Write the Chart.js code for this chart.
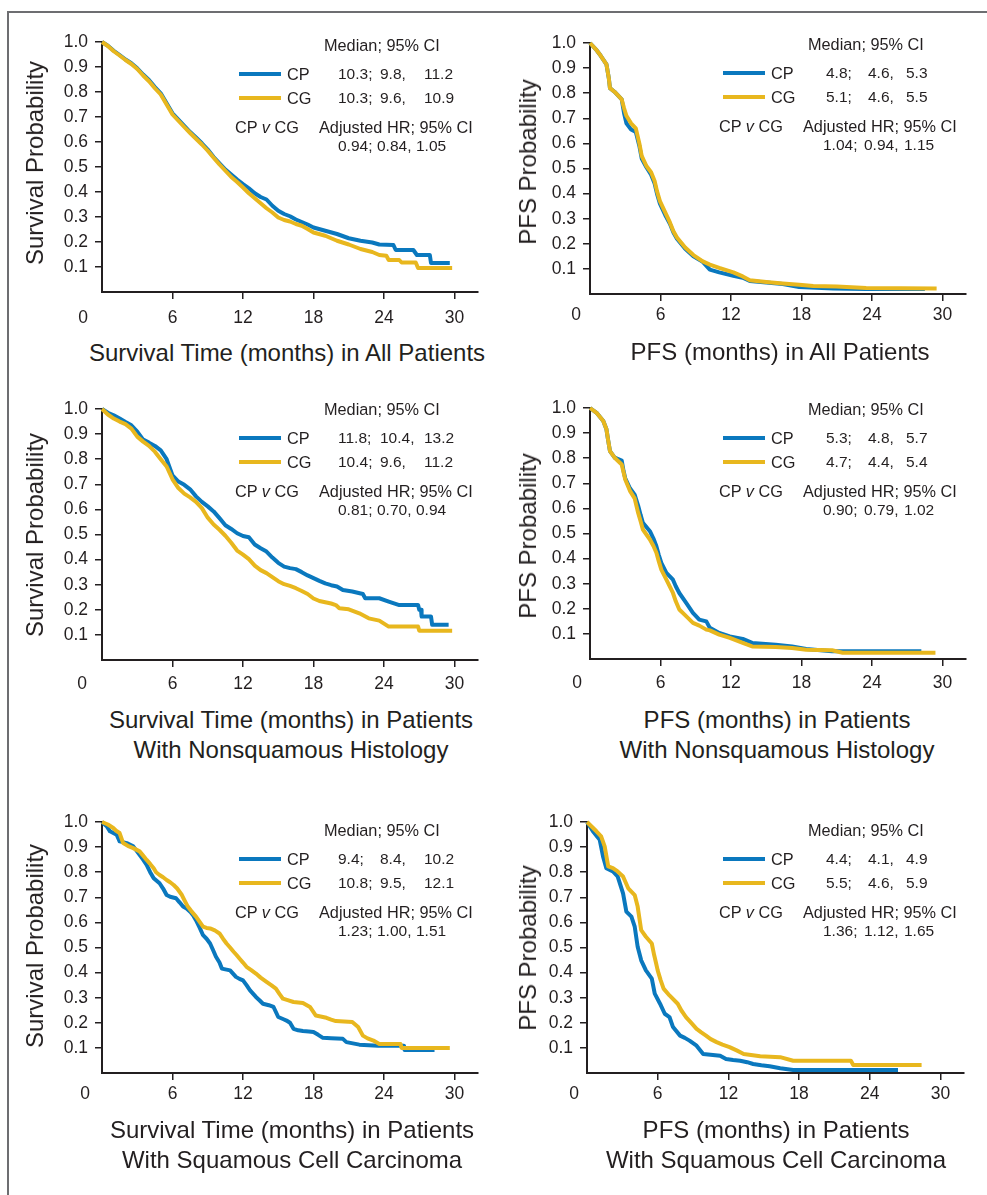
<!DOCTYPE html>
<html lang="en">
<head>
<meta charset="UTF-8">
<meta name="viewport" content="width=device-width, initial-scale=1.0">
<title>CP v CG: survival and PFS</title>
<script src="https://cdn.jsdelivr.net/npm/chart.js"></script>
<style>
  body { margin: 0; background: #fff; }
  #page {
    position: relative; width: 987px; height: 1195px; overflow: hidden; background: #fff;
    font-family: "Liberation Sans", Arial, sans-serif; color: #231f20;
  }
  #page canvas { position: absolute; }
  .frame { position: absolute; background: #6d6e71; }
  .txt { position: absolute; white-space: pre; line-height: 1; }
  .ttl { position: absolute; white-space: pre; line-height: 1; font-size: 24px; transform: translate(-50%, -50%); }
  .ytl { position: absolute; white-space: pre; line-height: 1; font-size: 24px; transform: translate(-50%, -50%) rotate(-90deg); }
  .swatch { position: absolute; height: 4px; }
</style>
</head>
<body>
<div id="page">
  <div class="frame" style="left:7px; top:11px; width:980px; height:2px;"></div>
  <div class="frame" style="left:7px; top:11px; width:2px; height:1184px;"></div>
</div>

<script>
    // --- data (months, probability) ---
    const yTicks = [0.1, 0.2, 0.3, 0.4, 0.5, 0.6, 0.7, 0.8, 0.9, 1.0];
    const xTicks = [6, 12, 18, 24, 30];

    // OS, all patients
    const osAllCpT = [0,0.5,1,1.5,2,2.5,3,3.5,4,4.5,5,5.5,6,6.5,7,7.5,8,8.5,9,9.5,10,10.5,11,11.5,12,12.5,13,13.5,14,14.5,15,15.5,16,16.5,17,17.5,18,19,20,21,22,23,23.6,24.8,25.0,26.5,26.8,27.9,28.0,29.6];
    const osAllCpS = [1,0.985,0.965,0.948,0.93,0.915,0.895,0.87,0.848,0.82,0.795,0.755,0.715,0.69,0.665,0.64,0.618,0.595,0.57,0.54,0.515,0.49,0.47,0.45,0.432,0.415,0.395,0.38,0.37,0.345,0.325,0.312,0.303,0.29,0.28,0.27,0.258,0.245,0.232,0.215,0.205,0.198,0.19,0.188,0.168,0.168,0.148,0.148,0.116,0.116];
    const osAllCgT = [0,0.5,1,1.5,2,2.5,3,3.5,4,4.5,5,5.5,6,6.5,7,7.5,8,8.5,9,9.5,10,10.5,11,11.5,12,12.5,13,13.5,14,14.5,15,15.5,16,16.5,17,17.5,18,19,20,21,22,23,23.6,24.2,24.4,25.3,25.5,26.7,26.9,29.8];
    const osAllCgS = [1,0.984,0.963,0.946,0.928,0.912,0.892,0.866,0.843,0.815,0.79,0.75,0.71,0.685,0.66,0.636,0.613,0.59,0.565,0.537,0.51,0.485,0.46,0.44,0.418,0.395,0.375,0.355,0.335,0.318,0.298,0.288,0.282,0.272,0.265,0.252,0.238,0.225,0.205,0.19,0.172,0.16,0.148,0.145,0.128,0.128,0.118,0.118,0.096,0.096];

    // PFS, all patients
    const pfsAllCpT = [0,0.5,0.9,1.4,1.6,1.7,2.1,2.7,2.9,3.1,3.5,3.9,4.2,4.4,4.8,5.2,5.5,5.7,5.95,6.4,6.8,7.1,7.4,8.1,8.8,9.6,10.2,11,12.2,13,13.6,15,16.4,17.8,20.7,23.5,28.5];
    const pfsAllCpS = [1,0.975,0.95,0.915,0.86,0.82,0.805,0.775,0.72,0.68,0.655,0.645,0.59,0.54,0.505,0.475,0.44,0.4,0.36,0.315,0.28,0.245,0.22,0.18,0.15,0.128,0.097,0.086,0.073,0.065,0.052,0.046,0.04,0.028,0.022,0.02,0.02];
    const pfsAllCgT = [0,0.5,0.9,1.4,1.6,1.7,2.1,2.7,2.9,3.1,3.5,3.9,4.2,4.4,4.8,5.2,5.5,5.7,5.95,6.4,6.8,7.1,7.4,8.1,8.8,9.6,10.2,11,12.2,13,13.6,15,16.4,17.8,19,21,23.5,29.5];
    const pfsAllCgS = [1,0.975,0.95,0.915,0.86,0.82,0.805,0.775,0.74,0.71,0.68,0.66,0.6,0.55,0.51,0.485,0.45,0.41,0.37,0.325,0.285,0.25,0.225,0.185,0.155,0.13,0.117,0.104,0.086,0.07,0.055,0.048,0.042,0.037,0.032,0.03,0.024,0.022];

    // OS, nonsquamous
    const osNsqCpT = [0,0.5,1,1.5,2,2.5,3,3.5,4,4.5,5,5.5,6,6.5,7,7.5,8,8.5,9,9.5,10,10.5,11,11.5,12,12.5,13,13.5,14,14.5,15,15.5,16,16.5,17,17.5,18,18.5,19,19.5,20,20.5,21.3,22.2,22.4,23.6,24.4,25.3,26.9,27.0,27.15,27.2,28.0,28.1,29.5];
    const osNsqCpS = [1,0.985,0.975,0.962,0.948,0.935,0.91,0.878,0.866,0.853,0.835,0.8,0.735,0.711,0.698,0.68,0.652,0.63,0.612,0.592,0.565,0.537,0.522,0.505,0.494,0.489,0.46,0.445,0.432,0.408,0.387,0.372,0.366,0.362,0.35,0.337,0.326,0.315,0.305,0.298,0.293,0.279,0.273,0.263,0.246,0.246,0.233,0.219,0.219,0.2,0.2,0.173,0.173,0.14,0.14];
    const osNsqCgT = [0,0.5,1,1.5,2,2.5,3,3.5,4,4.5,5,5.5,6,6.5,7,7.5,8,8.5,9,9.5,10,10.5,11,11.5,12,12.5,13,13.5,14,14.5,15,15.5,16,16.5,17,17.5,18,18.5,19,19.5,19.9,20.2,21,21.9,22.7,23.6,24.4,26.9,27.0,29.8];
    const osNsqCgS = [1,0.978,0.962,0.95,0.94,0.922,0.89,0.87,0.853,0.83,0.8,0.771,0.72,0.685,0.663,0.648,0.63,0.605,0.567,0.54,0.519,0.495,0.467,0.436,0.42,0.402,0.376,0.358,0.346,0.33,0.314,0.302,0.295,0.286,0.275,0.263,0.245,0.235,0.23,0.225,0.219,0.206,0.202,0.186,0.166,0.157,0.133,0.133,0.117,0.117];

    // PFS, nonsquamous
    const pfsNsqCpT = [0,0.56,1.13,1.4,1.55,1.7,2.1,2.7,2.85,3.0,3.4,3.8,4.1,4.3,4.5,5.1,5.4,5.65,5.85,6.07,6.5,7.06,7.3,7.6,8.2,8.76,9.3,9.9,10.2,11.0,11.9,13.0,13.8,15.8,17.2,18.4,20.6,28.2];
    const pfsNsqCpS = [1,0.981,0.948,0.915,0.87,0.828,0.802,0.79,0.75,0.72,0.68,0.655,0.61,0.575,0.543,0.509,0.48,0.449,0.415,0.383,0.343,0.316,0.29,0.263,0.223,0.184,0.157,0.15,0.124,0.104,0.09,0.08,0.064,0.057,0.05,0.04,0.031,0.031];
    const pfsNsqCgT = [0,0.56,1.13,1.4,1.55,1.7,2.1,2.7,2.85,3.0,3.4,3.8,4.1,4.3,4.5,5.1,5.4,5.65,5.85,6.07,6.5,7.06,7.3,7.6,8.2,8.76,9.3,9.9,10.2,11.0,11.9,13.0,13.8,15.8,17.2,18.4,20.6,21.5,29.4];
    const pfsNsqCgS = [1,0.981,0.948,0.915,0.87,0.828,0.802,0.775,0.745,0.715,0.67,0.64,0.582,0.55,0.516,0.476,0.45,0.423,0.39,0.356,0.316,0.263,0.23,0.197,0.17,0.144,0.133,0.117,0.114,0.097,0.084,0.064,0.05,0.048,0.044,0.037,0.035,0.025,0.025];

    // OS, squamous
    const osSqCpT = [0,0.4,0.68,1.25,1.5,2.1,2.66,3.2,3.5,3.8,4.1,4.4,4.9,5.2,5.5,5.8,6.3,6.6,6.9,7.2,7.5,7.8,8.0,8.3,8.6,8.9,9.2,9.45,9.7,10.0,10.2,10.9,11.4,11.7,12.0,12.3,12.6,13.1,13.4,13.7,14.2,14.6,15.0,15.4,15.7,16.0,16.3,16.7,17.1,17.6,18.0,18.4,18.8,19.5,20.5,20.8,21.9,23.5,25.7,25.75,28.3];
    const osSqCpS = [1,0.983,0.963,0.949,0.923,0.916,0.903,0.869,0.85,0.829,0.8,0.776,0.756,0.735,0.709,0.702,0.696,0.68,0.663,0.655,0.643,0.625,0.609,0.58,0.549,0.535,0.516,0.49,0.463,0.44,0.416,0.409,0.383,0.375,0.369,0.35,0.329,0.303,0.29,0.276,0.27,0.263,0.223,0.215,0.209,0.2,0.176,0.17,0.167,0.165,0.163,0.152,0.14,0.138,0.136,0.123,0.113,0.109,0.109,0.092,0.092];
    const osSqCgT = [0,0.5,0.96,1.2,1.5,1.8,2.2,2.66,3.2,3.5,3.8,4.1,4.4,4.6,4.9,5.2,5.5,5.8,6.1,6.4,6.8,7.0,7.3,7.6,8.0,8.3,8.6,8.9,9.2,9.6,10.0,10.3,10.6,10.9,11.2,11.45,11.7,12.0,12.3,12.7,13.1,13.5,14.0,14.4,14.8,15.1,15.4,15.8,16.3,17.1,17.7,18.2,18.6,19.1,19.5,19.9,21.3,21.8,22.2,22.6,23.1,23.6,25.4,25.5,29.6];
    const osSqCgS = [1,0.99,0.976,0.965,0.956,0.916,0.905,0.896,0.883,0.866,0.849,0.833,0.816,0.8,0.789,0.78,0.769,0.76,0.749,0.735,0.709,0.69,0.663,0.645,0.623,0.603,0.583,0.578,0.576,0.568,0.556,0.535,0.516,0.5,0.483,0.47,0.456,0.44,0.423,0.41,0.396,0.38,0.363,0.35,0.336,0.315,0.296,0.29,0.283,0.279,0.263,0.229,0.225,0.22,0.213,0.207,0.203,0.183,0.149,0.138,0.129,0.116,0.116,0.1,0.1];

    // PFS, squamous
    const pfsSqCpT = [0,0.5,1.08,1.36,1.64,2.2,2.6,3.06,3.34,3.77,4.05,4.3,4.6,5.0,5.5,5.75,6.2,6.6,7.0,7.3,7.9,8.3,8.7,9.3,9.86,11.3,11.8,12.4,13.0,13.6,14.1,14.8,15.5,16.4,17.5,26.4];
    const pfsSqCpS = [1,0.963,0.929,0.863,0.816,0.803,0.783,0.716,0.643,0.623,0.583,0.503,0.449,0.409,0.376,0.316,0.276,0.236,0.223,0.183,0.149,0.14,0.129,0.109,0.076,0.069,0.056,0.052,0.049,0.043,0.036,0.031,0.027,0.019,0.012,0.012];
    const pfsSqCgT = [0,0.8,1.2,1.5,1.8,2.2,2.6,3.06,3.5,4.05,4.3,4.6,5.0,5.5,5.7,5.85,6.0,6.25,6.5,7.0,7.7,8.0,8.4,8.85,9.3,9.7,10.1,10.5,11.0,11.5,12.1,12.7,13.3,14.7,16.4,17.5,22.4,22.6,28.4];
    const pfsSqCgS = [1,0.963,0.943,0.903,0.823,0.816,0.803,0.783,0.736,0.709,0.663,0.569,0.543,0.516,0.47,0.44,0.409,0.37,0.336,0.309,0.276,0.25,0.223,0.2,0.176,0.162,0.149,0.135,0.123,0.113,0.103,0.09,0.076,0.067,0.063,0.049,0.049,0.032,0.032];

    // medians (CP row, CG row) and adjusted HR
    const osAllMedian  = [['10.3;', '9.8,', '11.2'], ['10.3;', '9.6,', '10.9']];
    const pfsAllMedian = [['4.8;', '4.6,', '5.3'], ['5.1;', '4.6,', '5.5']];
    const osNsqMedian  = [['11.8;', '10.4,', '13.2'], ['10.4;', '9.6,', '11.2']];
    const pfsNsqMedian = [['5.3;', '4.8,', '5.7'], ['4.7;', '4.4,', '5.4']];
    const osSqMedian   = [['9.4;', '8.4,', '10.2'], ['10.8;', '9.5,', '12.1']];
    const pfsSqMedian  = [['4.4;', '4.1,', '4.9'], ['5.5;', '4.6,', '5.9']];
    const osAllHR  = ['0.94;', '0.84,', '1.05'];
    const pfsAllHR = ['1.04;', '0.94,', '1.15'];
    const osNsqHR  = ['0.81;', '0.70,', '0.94'];
    const pfsNsqHR = ['0.90;', '0.79,', '1.02'];
    const osSqHR   = ['1.23;', '1.00,', '1.51'];
    const pfsSqHR  = ['1.36;', '1.12,', '1.65'];

    const BLUE = '#0a78be', GOLD = '#e8b71e', INK = '#231f20';
    const FONT = '"Liberation Sans", Arial, sans-serif';

    // where each panel sits on the page
    const panels = [
        { cp: [osAllCpT, osAllCpS], cg: [osAllCgT, osAllCgS], med: osAllMedian, hr: osAllHR,
          left: 102, top: 42, bottom: 292, right: 478, lab: 26, zeroDx: -19, side: 0, legY: 45,
          yTitle: 'Survival Probability', yAt: [35, 163], xTitle: ['Survival Time (months) in All Patients'], xAt: [287, 353] },
        { cp: [pfsAllCpT, pfsAllCpS], cg: [pfsAllCgT, pfsAllCgS], med: pfsAllMedian, hr: pfsAllHR,
          left: 590, top: 43, bottom: 294, right: 966, lab: 21, zeroDx: -14, side: 1, legY: 44,
          yTitle: 'PFS Probability', yAt: [528, 162], xTitle: ['PFS (months) in All Patients'], xAt: [780, 352] },
        { cp: [osNsqCpT, osNsqCpS], cg: [osNsqCgT, osNsqCgS], med: osNsqMedian, hr: osNsqHR,
          left: 102, top: 409, bottom: 660, right: 478, lab: 24, zeroDx: -20, side: 0, legY: 409,
          yTitle: 'Survival Probability', yAt: [35, 535], xTitle: ['Survival Time (months) in Patients', 'With Nonsquamous Histology'], xAt: [291, 720] },
        { cp: [pfsNsqCpT, pfsNsqCpS], cg: [pfsNsqCgT, pfsNsqCgS], med: pfsNsqMedian, hr: pfsNsqHR,
          left: 590, top: 408, bottom: 659, right: 966, lab: 24, zeroDx: -13, side: 1, legY: 409,
          yTitle: 'PFS Probability', yAt: [528, 536], xTitle: ['PFS (months) in Patients', 'With Nonsquamous Histology'], xAt: [777, 720] },
        { cp: [osSqCpT, osSqCpS], cg: [osSqCgT, osSqCgS], med: osSqMedian, hr: osSqHR,
          left: 102, top: 822, bottom: 1073, right: 478, lab: 21, zeroDx: -17, side: 0, legY: 830,
          yTitle: 'Survival Probability', yAt: [35, 946], xTitle: ['Survival Time (months) in Patients', 'With Squamous Cell Carcinoma'], xAt: [292, 1130] },
        { cp: [pfsSqCpT, pfsSqCpS], cg: [pfsSqCgT, pfsSqCgS], med: pfsSqMedian, hr: pfsSqHR,
          left: 587, top: 822, bottom: 1073, right: 964, lab: 21, zeroDx: -13, side: 1, legY: 830,
          yTitle: 'PFS Probability', yAt: [528, 948], xTitle: ['PFS (months) in Patients', 'With Squamous Cell Carcinoma'], xAt: [776, 1130] }
    ];

    const legendX = [
        { line: [239, 281], lab: 287, med: 324, cols: [338, 380, 424], cpv: 235, adj: 319, hr: [338, 377, 416] },
        { line: [723, 765], lab: 771, med: 808, cols: [826, 868, 906], cpv: 719, adj: 803, hr: [823, 864, 904] }
    ];
    const legendRows = [0, 29, 53, 82, 101];

    const page = document.getElementById('page');

    // "0" sits below and left of the origin
    const zeroTick = {
        id: 'zeroTick',
        afterDraw(chart, args, o) {
            const x = chart.scales.x, c = chart.ctx;
            c.save();
            c.font = '17.5px ' + FONT;
            c.fillStyle = INK;
            c.textAlign = 'center';
            c.textBaseline = 'middle';
            c.fillText('0', x.getPixelForValue(0) + o.dx, x.top + o.dy);
            c.restore();
        }
    };

    function pts(t, s) {
        return t.map((x, i) => ({ x: x, y: s[i] }));
    }

    function addText(html, x, cy, size, cls) {
        const d = document.createElement('div');
        d.className = cls || 'txt';
        d.style.left = x + 'px';
        d.style.top = (cy - 0.49 * size) + 'px';
        d.style.fontSize = size + 'px';
        d.innerHTML = html;
        page.appendChild(d);
        return d;
    }

    function makePanel(p) {
        const cl = p.left - 62, ct = p.top - 20;
        const w = p.right - cl + 12, h = p.bottom - ct + 45;
        const cv = document.createElement('canvas');
        cv.width = w; cv.height = h;
        cv.style.left = cl + 'px'; cv.style.top = ct + 'px';
        cv.style.width = w + 'px'; cv.style.height = h + 'px';
        page.appendChild(cv);

        const tickFont = { family: FONT, size: 17.5 };
        const line = { borderWidth: 4, tension: 0, pointRadius: 0, fill: false, clip: false, borderJoinStyle: 'round' };

        new Chart(cv, {
            type: 'line',
            data: {
                datasets: [
                    Object.assign({ label: 'CG', data: pts(p.cg[0], p.cg[1]), borderColor: GOLD }, line),
                    Object.assign({ label: 'CP', data: pts(p.cp[0], p.cp[1]), borderColor: BLUE }, line)
                ]
            },
            options: {
                responsive: false,
                animation: false,
                devicePixelRatio: 1,
                layout: { padding: { top: 20, right: 12, bottom: 0, left: 0 } },
                plugins: {
                    legend: { display: false },
                    tooltip: { enabled: false },
                    zeroTick: { dx: p.zeroDx, dy: p.lab }
                },
                scales: {
                    x: {
                        type: 'linear', min: 0, max: 32,
                        afterFit: s => { s.height = 45; },
                        afterBuildTicks: s => { s.ticks = xTicks.map(v => ({ value: v })); },
                        ticks: { font: tickFont, color: INK, padding: p.lab - 7 - 10.5, callback: v => String(v), maxRotation: 0, autoSkip: false },
                        grid: { drawOnChartArea: false, tickLength: 7, color: INK, lineWidth: 1.5 },
                        border: { color: INK, width: 2 }
                    },
                    y: {
                        min: 0, max: 1,
                        afterFit: s => { s.width = 62; },
                        afterBuildTicks: s => { s.ticks = yTicks.map(v => ({ value: v })); },
                        ticks: { font: tickFont, color: INK, padding: 7, callback: v => v.toFixed(1), autoSkip: false },
                        grid: { drawOnChartArea: false, tickLength: 7, color: INK, lineWidth: 1.5 },
                        border: { color: INK, width: 2 }
                    }
                }
            },
            plugins: [zeroTick]
        });

        // axis titles
        const yt = document.createElement('div');
        yt.className = 'ytl';
        yt.style.left = p.yAt[0] + 'px';
        yt.style.top = p.yAt[1] + 'px';
        yt.textContent = p.yTitle;
        page.appendChild(yt);
        p.xTitle.forEach((s, i) => {
            const d = document.createElement('div');
            d.className = 'ttl';
            d.style.left = p.xAt[0] + 'px';
            d.style.top = (p.xAt[1] + i * 30) + 'px';
            d.textContent = s;
            page.appendChild(d);
        });

        // legend block
        const L = legendX[p.side], y0 = p.legY;
        addText('Median; 95% CI', L.med, y0 + legendRows[0], 16.3);
        [[BLUE, 'CP'], [GOLD, 'CG']].forEach((r, i) => {
            const cy = y0 + legendRows[1 + i];
            const sw = document.createElement('div');
            sw.className = 'swatch';
            sw.style.left = L.line[0] + 'px';
            sw.style.width = (L.line[1] - L.line[0]) + 'px';
            sw.style.top = (cy - 2) + 'px';
            sw.style.background = r[0];
            page.appendChild(sw);
            addText(r[1], L.lab, cy, 16.3);
            p.med[i].forEach((v, k) => addText(v, L.cols[k], cy, 15.5));
        });
        addText('CP <i>v</i> CG', L.cpv, y0 + legendRows[3], 16.3);
        addText('Adjusted HR; 95% CI', L.adj, y0 + legendRows[3], 16.3);
        p.hr.forEach((v, k) => addText(v, L.hr[k], y0 + legendRows[4], 15.5));
    }

    panels.forEach(makePanel);
</script>
</body>
</html>
